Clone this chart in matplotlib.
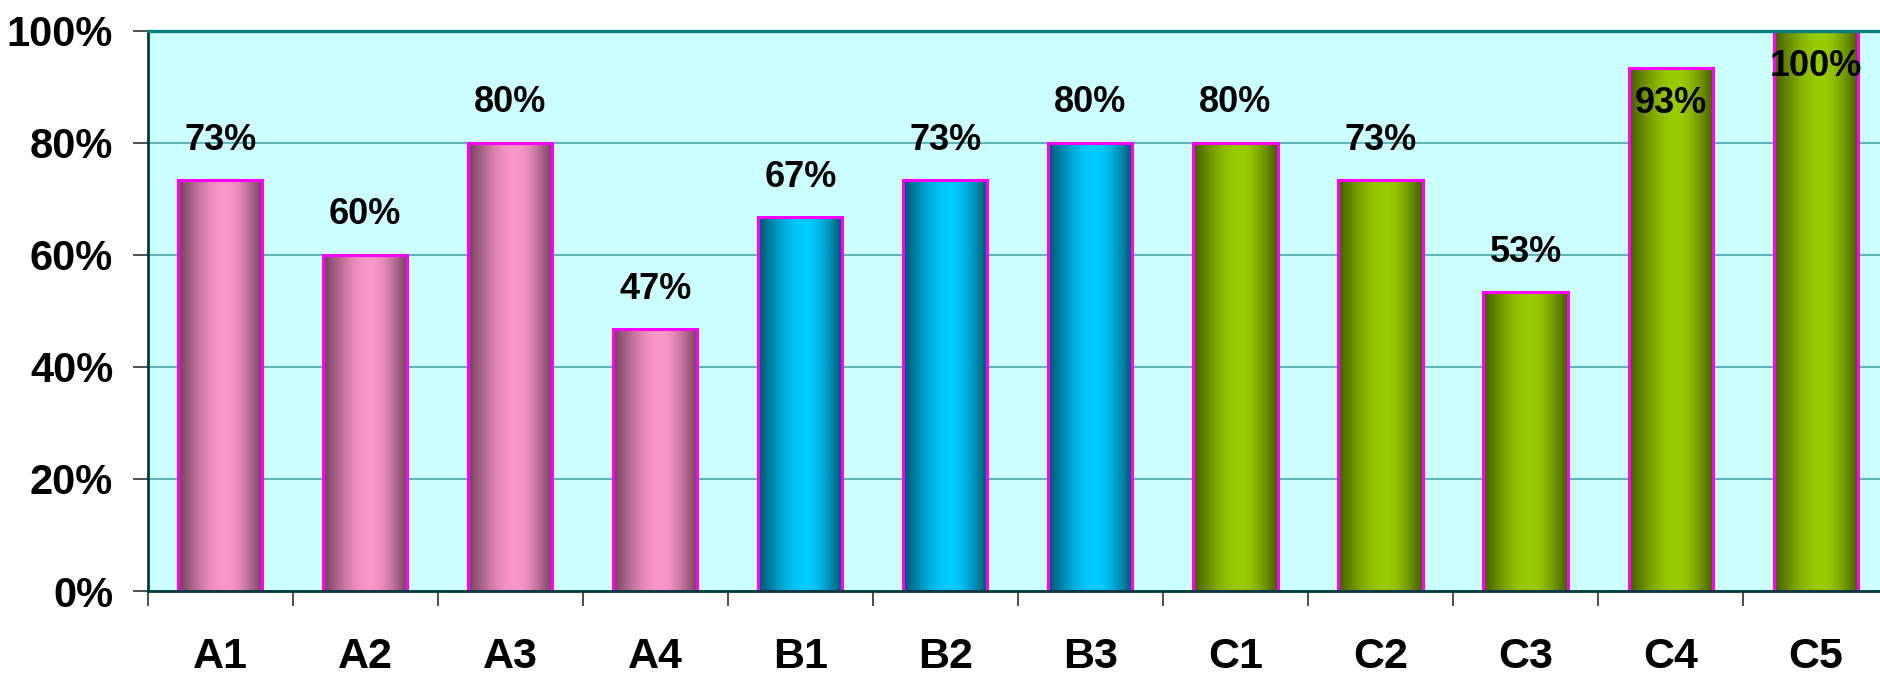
import numpy as np
import matplotlib
matplotlib.use("Agg")
import matplotlib.pyplot as plt
from matplotlib.colors import to_rgb
from matplotlib.ticker import FixedLocator, FuncFormatter

# ---- data ----
categories = ["A1", "A2", "A3", "A4", "B1", "B2", "B3", "C1", "C2", "C3", "C4", "C5"]
values = [73.3, 60.0, 80.0, 46.7, 66.7, 73.3, 80.0, 80.0, 73.3, 53.3, 93.3, 100.0]
groups = ["A", "A", "A", "A", "B", "B", "B", "C", "C", "C", "C", "C"]
y_ticks = [0, 20, 40, 60, 80, 100]

# ---- styles ----
group_colors = {
    "A": ("#74405c", "#fb97c9"),
    "B": ("#005470", "#00ccff"),
    "C": ("#465c00", "#99cc00"),
}
plt.rcParams['font.family'] = ['Liberation Sans', 'DejaVu Sans']
plt.rcParams['font.weight'] = 'bold'

fig = plt.figure(figsize=(18.81, 6.75), dpi=100)
fig.patch.set_facecolor('white')
ax = fig.add_axes([0.0785, 0.1244, 0.9253, 0.8304])
ax.set_facecolor('#ccffff')

x = np.arange(len(categories))
bars = ax.bar(x, values, width=0.58, facecolor='none', edgecolor='#ff00ff',
              linewidth=2.2, zorder=4)


def gradient(dark, light, n=256):
    t = np.linspace(0, 1, n)
    peak = 0.56
    u = np.where(t < peak, t / peak, (1 - t) / (1 - peak))
    w = np.sin(u * np.pi / 2) ** 1.1
    d = np.array(to_rgb(dark))
    l = np.array(to_rgb(light))
    return d[None, :] + (l - d)[None, :] * w[:, None]


for b, g in zip(bars, groups):
    x0, w, h = b.get_x(), b.get_width(), b.get_height()
    img = gradient(*group_colors[g])[None, :, :]
    ax.imshow(img, extent=(x0, x0 + w, 0, h), aspect='auto',
              interpolation='bilinear', zorder=3)

ax.set_xlim(-0.5, len(categories) - 0.5)
ax.set_ylim(0, 100)

# gridlines
ax.yaxis.set_major_locator(FixedLocator(y_ticks))
ax.yaxis.set_major_formatter(FuncFormatter(lambda v, p: f"{v:.0f}%"))
ax.grid(axis='y', color='#3fa3a3', linewidth=1.1, zorder=1)
ax.set_axisbelow(True)

# x ticks: labels at centres, marks at boundaries
ax.set_xticks(x)
ax.set_xticklabels(categories)
ax.set_xticks(np.arange(len(categories) + 1) - 0.5, minor=True)
ax.tick_params(axis='x', which='major', length=0, pad=33, labelsize=31)
ax.tick_params(axis='x', which='minor', length=10.8, width=1.3, color='#404040',
               direction='out')
ax.tick_params(axis='y', which='major', length=10.8, width=1.3, color='#404040',
               direction='out', pad=14, labelsize=30)
for lab in ax.get_xticklabels() + ax.get_yticklabels():
    lab.set_fontweight('bold')

# spines
ax.spines['right'].set_visible(False)
ax.spines['top'].set_color('#0a7f7f')
ax.spines['top'].set_linewidth(2.4)
ax.spines['left'].set_color('#003c3c')
ax.spines['left'].set_linewidth(2.0)
ax.spines['bottom'].set_color('#003c3c')
ax.spines['bottom'].set_linewidth(2.0)
for s in ax.spines.values():
    s.set_zorder(5)

# data labels
for xi, v in zip(x, values):
    label = f"{round(v):.0f}%"
    if v + 11 > 100:
        ax.annotate(label, (xi, v), xytext=(0, -13), textcoords='offset points',
                    ha='center', va='top', fontsize=26, fontweight='bold',
                    color='black', zorder=6)
    else:
        ax.annotate(label, (xi, v), xytext=(0, 16), textcoords='offset points',
                    ha='center', va='bottom', fontsize=26, fontweight='bold',
                    color='black', zorder=6)

fig.savefig('out.png', dpi=100)
